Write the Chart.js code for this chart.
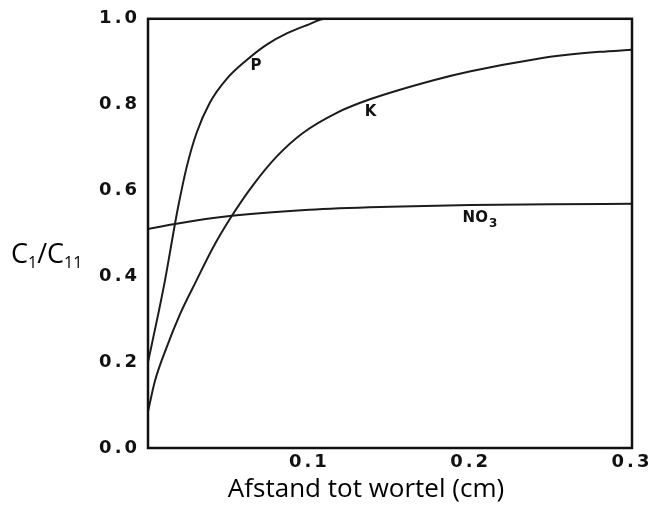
<!DOCTYPE html>
<html>
<head>
<meta charset="utf-8">
<script src="https://cdn.jsdelivr.net/npm/chart.js@4/dist/chart.umd.min.js"></script>
<style>
  html, body { margin: 0; padding: 0; background: #fff; }
  #wrap { width: 653px; height: 508px; }
</style>
</head>
<body>
<div id="wrap"><canvas id="chart" width="653" height="508"></canvas></div>
<script>
// afstand tot wortel (cm) and C1/C11, read per curve
const pDistance = [0, 0.0064, 0.0105, 0.0167, 0.0188, 0.024, 0.0302, 0.0384, 0.0488, 0.0612, 0.0736, 0.086, 0.0984, 0.11, 0.3];
const pValues = [0.2, 0.313, 0.39, 0.522, 0.564, 0.655, 0.735, 0.805, 0.86, 0.904, 0.94, 0.966, 0.985, 1.0, 1.0];
const kDistance = [0, 0.0043, 0.0116, 0.02, 0.03, 0.04, 0.052, 0.065, 0.08, 0.096, 0.117, 0.138, 0.177, 0.2, 0.24, 0.26, 0.28, 0.3];
const kValues = [0.085, 0.156, 0.235, 0.313, 0.39, 0.465, 0.541, 0.612, 0.68, 0.734, 0.781, 0.813, 0.857, 0.878, 0.906, 0.916, 0.923, 0.928];
const no3Distance = [0, 0.0167, 0.052, 0.1, 0.15, 0.2, 0.25, 0.3];
const no3Values = [0.51, 0.522, 0.541, 0.555, 0.562, 0.566, 0.568, 0.569];
const xTicks = [0, 0.1, 0.2, 0.3];
const yTicks = [0, 0.2, 0.4, 0.6, 0.8, 1.0];

const lineColor = '#1c1c1c';

function series(xs, ys) {
  return {
    data: xs.map((d, i) => ({ x: d, y: ys[i] })),
    borderColor: lineColor,
    borderWidth: 2,
    pointRadius: 0,
    fill: false,
    cubicInterpolationMode: 'monotone',
  };
}

// frame, curve labels and axis titles
const decorPlugin = {
  id: 'decor',
  beforeDraw(chart) {
    chart.ctx.letterSpacing = '3px';
  },
  afterDraw(chart) {
    const ctx = chart.ctx;
    const { left, right, top, bottom } = chart.chartArea;
    const xs = chart.scales.x;
    const ys = chart.scales.y;
    ctx.save();
    ctx.letterSpacing = '0px';
    ctx.strokeStyle = '#111';
    ctx.lineWidth = 2.5;
    ctx.strokeRect(left, top, right - left, bottom - top);

    ctx.fillStyle = '#111';
    ctx.font = 'bold 15px "DejaVu Sans"';
    ctx.textBaseline = 'middle';
    ctx.textAlign = 'center';
    ctx.fillText('P', xs.getPixelForValue(0.067), ys.getPixelForValue(0.889));
    ctx.fillText('K', xs.getPixelForValue(0.138), ys.getPixelForValue(0.782));
    ctx.textAlign = 'left';
    const nx = xs.getPixelForValue(0.195);
    const ny = ys.getPixelForValue(0.536);
    ctx.fillText('NO', nx, ny);
    const nw = ctx.measureText('NO').width;
    ctx.font = 'bold 12px "DejaVu Sans"';
    ctx.fillText('3', nx + nw + 1, ny + 6);

    // y title with subscripts
    ctx.fillStyle = '#000';
    ctx.textBaseline = 'alphabetic';
    let cx = 11;
    const base = 263;
    const parts = [['C', 27, 0], ['1', 16, 5], ['/', 27, 0], ['C', 27, 0], ['11', 16, 5]];
    parts.forEach(([t, size, dy]) => {
      ctx.font = size + 'px "Open Sans"';
      ctx.fillText(t, cx, base + dy);
      cx += ctx.measureText(t).width;
    });

    // x title
    ctx.font = '26px "Open Sans"';
    ctx.textAlign = 'center';
    ctx.fillText('Afstand tot wortel (cm)', 366, 497);
    ctx.restore();
  },
};

const ctx = document.getElementById('chart').getContext('2d');
const chart = new Chart(ctx, {
  type: 'line',
  data: {
    datasets: [
      series(pDistance, pValues),
      series(kDistance, kValues),
      series(no3Distance, no3Values),
    ],
  },
  options: {
    responsive: false,
    animation: false,
    layout: {
      padding: { top: 18, right: 21, left: 0, bottom: 0 },
    },
    plugins: {
      legend: { display: false },
      tooltip: { enabled: false },
    },
    scales: {
      x: {
        type: 'linear',
        min: 0,
        max: 0.3,
        afterBuildTicks: (scale) => {
          scale.ticks = xTicks.map((v) => ({ value: v }));
        },
        afterFit: (scale) => {
          scale.height = 60;
        },
        grid: { display: false, drawTicks: false },
        border: { display: false },
        ticks: {
          padding: 4,
          color: '#111',
          font: { family: '"DejaVu Sans"', weight: 'bold', size: 18 },
          maxRotation: 0,
          callback: (v) => (v === 0 ? '' : v.toFixed(1)),
        },
        title: { display: false },
      },
      y: {
        min: 0,
        max: 1.0,
        afterBuildTicks: (scale) => {
          scale.ticks = yTicks.map((v) => ({ value: v }));
        },
        afterFit: (scale) => {
          scale.width = 148;
        },
        grid: { display: false, drawTicks: false },
        border: { display: false },
        ticks: {
          padding: 8,
          color: '#111',
          font: { family: '"DejaVu Sans"', weight: 'bold', size: 18 },
          callback: (v) => v.toFixed(1),
        },
        title: { display: false },
      },
    },
  },
  plugins: [decorPlugin],
});
</script>
</body>
</html>
